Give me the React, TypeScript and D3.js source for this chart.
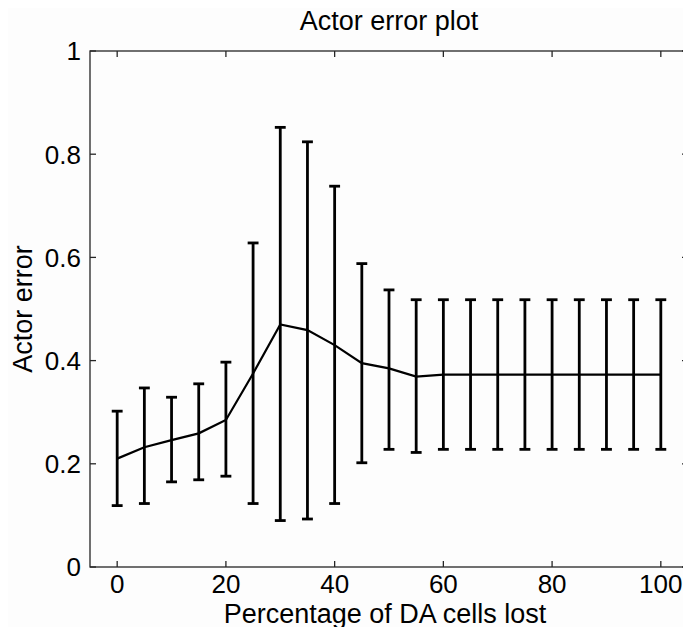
import React, { useEffect, useRef } from "react";
import * as d3 from "d3";

// percentage of DA cells lost
const xValues = [0, 5, 10, 15, 20, 25, 30, 35, 40, 45, 50, 55, 60, 65, 70, 75, 80, 85, 90, 95, 100];
// mean actor error
const meanValues = [
  0.21, 0.232, 0.246, 0.259, 0.285, 0.375, 0.47, 0.459, 0.43, 0.395, 0.385, 0.369,
  0.373, 0.373, 0.373, 0.373, 0.373, 0.373, 0.373, 0.373, 0.373,
];
const upperValues = [
  0.302, 0.347, 0.329, 0.355, 0.397, 0.628, 0.852, 0.824, 0.738, 0.588, 0.537, 0.518,
  0.518, 0.518, 0.518, 0.518, 0.518, 0.518, 0.518, 0.518, 0.518,
];
const lowerValues = [
  0.119, 0.123, 0.165, 0.169, 0.176, 0.123, 0.09, 0.093, 0.123, 0.202, 0.228, 0.222,
  0.228, 0.228, 0.228, 0.228, 0.228, 0.228, 0.228, 0.228, 0.228,
];
const xTicks = [0, 20, 40, 60, 80, 100];
const yTicks = [0, 0.2, 0.4, 0.6, 0.8, 1];

const W = 691;
const H = 635;
const margin = { top: 51, right: 3, bottom: 68, left: 90 };
const font = "Arial, 'Liberation Sans', Helvetica, sans-serif";

const ErrorPlot = () => {
  const ref = useRef<SVGSVGElement>(null);

  useEffect(() => {
    const svg = d3.select(ref.current);
    svg.selectAll("*").remove();

    const x0 = margin.left;
    const x1 = W - margin.right;
    const y0 = H - margin.bottom;
    const y1 = margin.top;

    const x = d3.scaleLinear().domain([-5, 105]).range([x0, x1]);
    const y = d3.scaleLinear().domain([0, 1]).range([y0, y1]);

    svg.append("rect").attr("width", W).attr("height", H).attr("fill", "#fdfdfd");

    const tickLen = 6;
    const axisColor = "#262626";

    // axes box
    svg
      .append("rect")
      .attr("x", x0)
      .attr("y", y1)
      .attr("width", x1 - x0)
      .attr("height", y0 - y1)
      .attr("fill", "#fdfdfd")
      .attr("stroke", axisColor)
      .attr("stroke-width", 1.3);

    const ticks = svg.append("g").attr("stroke", axisColor).attr("stroke-width", 1.3);
    xTicks.forEach((t) => {
      ticks.append("line").attr("x1", x(t)).attr("x2", x(t)).attr("y1", y0).attr("y2", y0 - tickLen);
      ticks.append("line").attr("x1", x(t)).attr("x2", x(t)).attr("y1", y1).attr("y2", y1 + tickLen);
    });
    yTicks.forEach((t) => {
      ticks.append("line").attr("x1", x0).attr("x2", x0 + tickLen).attr("y1", y(t)).attr("y2", y(t));
      ticks.append("line").attr("x1", x1).attr("x2", x1 - tickLen).attr("y1", y(t)).attr("y2", y(t));
    });

    svg
      .append("g")
      .selectAll("text")
      .data(xTicks)
      .join("text")
      .attr("x", (d) => x(d))
      .attr("y", y0 + 26)
      .attr("text-anchor", "middle")
      .style("font-family", font)
      .style("font-size", "26px")
      .attr("fill", "#000")
      .text((d) => String(d));

    svg
      .append("g")
      .selectAll("text")
      .data(yTicks)
      .join("text")
      .attr("x", x0 - 9)
      .attr("y", (d) => y(d))
      .attr("dy", "0.36em")
      .attr("text-anchor", "end")
      .style("font-family", font)
      .style("font-size", "26px")
      .attr("fill", "#000")
      .text((d) => String(d));

    // error bars
    const bars = svg.append("g").attr("stroke", "#000").attr("stroke-width", 2.8).attr("fill", "none");
    xValues.forEach((xv, i) => {
      const cx = x(xv);
      const half = x(1) - x(0);
      bars.append("line").attr("x1", cx).attr("x2", cx).attr("y1", y(upperValues[i])).attr("y2", y(lowerValues[i]));
      bars.append("line").attr("x1", cx - half).attr("x2", cx + half).attr("y1", y(upperValues[i])).attr("y2", y(upperValues[i]));
      bars.append("line").attr("x1", cx - half).attr("x2", cx + half).attr("y1", y(lowerValues[i])).attr("y2", y(lowerValues[i]));
    });

    const line = d3
      .line<number>()
      .x((d, i) => x(xValues[i]))
      .y((d) => y(d));

    svg
      .append("path")
      .datum(meanValues)
      .attr("d", line)
      .attr("fill", "none")
      .attr("stroke", "#000")
      .attr("stroke-width", 2.2);

    svg
      .append("text")
      .attr("x", (x0 + x1) / 2)
      .attr("y", 30)
      .attr("text-anchor", "middle")
      .style("font-family", font)
      .style("font-size", "27px")
      .text("Actor error plot");

    svg
      .append("text")
      .attr("x", (x0 + x1) / 2 - 4)
      .attr("y", 623)
      .attr("text-anchor", "middle")
      .style("font-family", font)
      .style("font-size", "27px")
      .text("Percentage of DA cells lost");

    svg
      .append("text")
      .attr("transform", `translate(32,${(y0 + y1) / 2}) rotate(-90)`)
      .attr("text-anchor", "middle")
      .style("font-family", font)
      .style("font-size", "27px")
      .text("Actor error");
  });

  return <svg ref={ref} width={W} height={H} style={{ display: "block" }}></svg>;
};

export default function App() {
  return (
    <div style={{ margin: -8 }}>
      <ErrorPlot />
    </div>
  );
}
